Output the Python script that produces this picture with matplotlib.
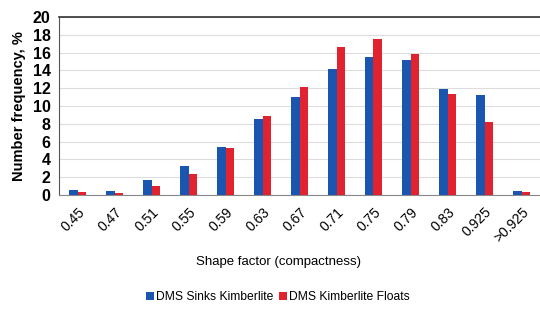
import numpy as np
import matplotlib.pyplot as plt

categories = ['0.45', '0.47', '0.51', '0.55', '0.59', '0.63', '0.67', '0.71',
              '0.75', '0.79', '0.83', '0.925', '>0.925']
sinks = [0.55, 0.5, 1.7, 3.3, 5.4, 8.5, 11.0, 14.2, 15.5, 15.2, 11.9, 11.2, 0.4]
floats = [0.3, 0.25, 1.05, 2.4, 5.3, 8.9, 12.1, 16.6, 17.5, 15.8, 11.3, 8.2, 0.3]

plt.rcParams['font.family'] = ['Liberation Sans', 'DejaVu Sans']

fig = plt.figure(figsize=(5.4, 3.09), dpi=100)
ax = fig.add_axes([59 / 540, 1 - 195 / 309, 481 / 540, 178 / 309])

x = np.arange(len(categories))
w = 0.22
ax.bar(x - w / 2, sinks, w, color='#1A56B0', label='DMS Sinks Kimberlite', zorder=3)
ax.bar(x + w / 2, floats, w, color='#E0232E', label='DMS Kimberlite Floats', zorder=3)

ax.set_xlim(-0.5, len(categories) - 0.5)
ax.set_ylim(0, 20)
ax.set_yticks(np.arange(0, 21, 2))
ax.yaxis.grid(True, color='#DDDDDD', linewidth=0.8, zorder=0)
ax.set_xticks(x)
ax.set_xticklabels(categories, rotation=45, ha='right', rotation_mode='anchor', fontsize=10)
ax.tick_params(axis='x', length=0, pad=7)
ax.tick_params(axis='y', length=0, pad=6, labelsize=11.5)
for lab in ax.get_yticklabels():
    lab.set_fontweight('bold')

ax.spines['top'].set_color('#333333')
ax.spines['top'].set_linewidth(1.2)
ax.spines['right'].set_visible(False)
ax.spines['left'].set_color('#555555')
ax.spines['bottom'].set_color('#888888')

ax.set_ylabel('Number frequency, %', fontsize=10.5, fontweight='bold', labelpad=5)
ax.set_xlabel('Shape factor (compactness)', fontsize=9.5, labelpad=9)
ax.xaxis.set_label_coords((278 - 59) / 481, -0.345)

fig.legend(loc='center', bbox_to_anchor=(278 / 540, 1 - 297 / 309), ncol=2, frameon=False,
           fontsize=8.7, handlelength=0.6, handleheight=0.6, handletextpad=0.2, columnspacing=0.5)

fig.savefig('out.png', dpi=100)
